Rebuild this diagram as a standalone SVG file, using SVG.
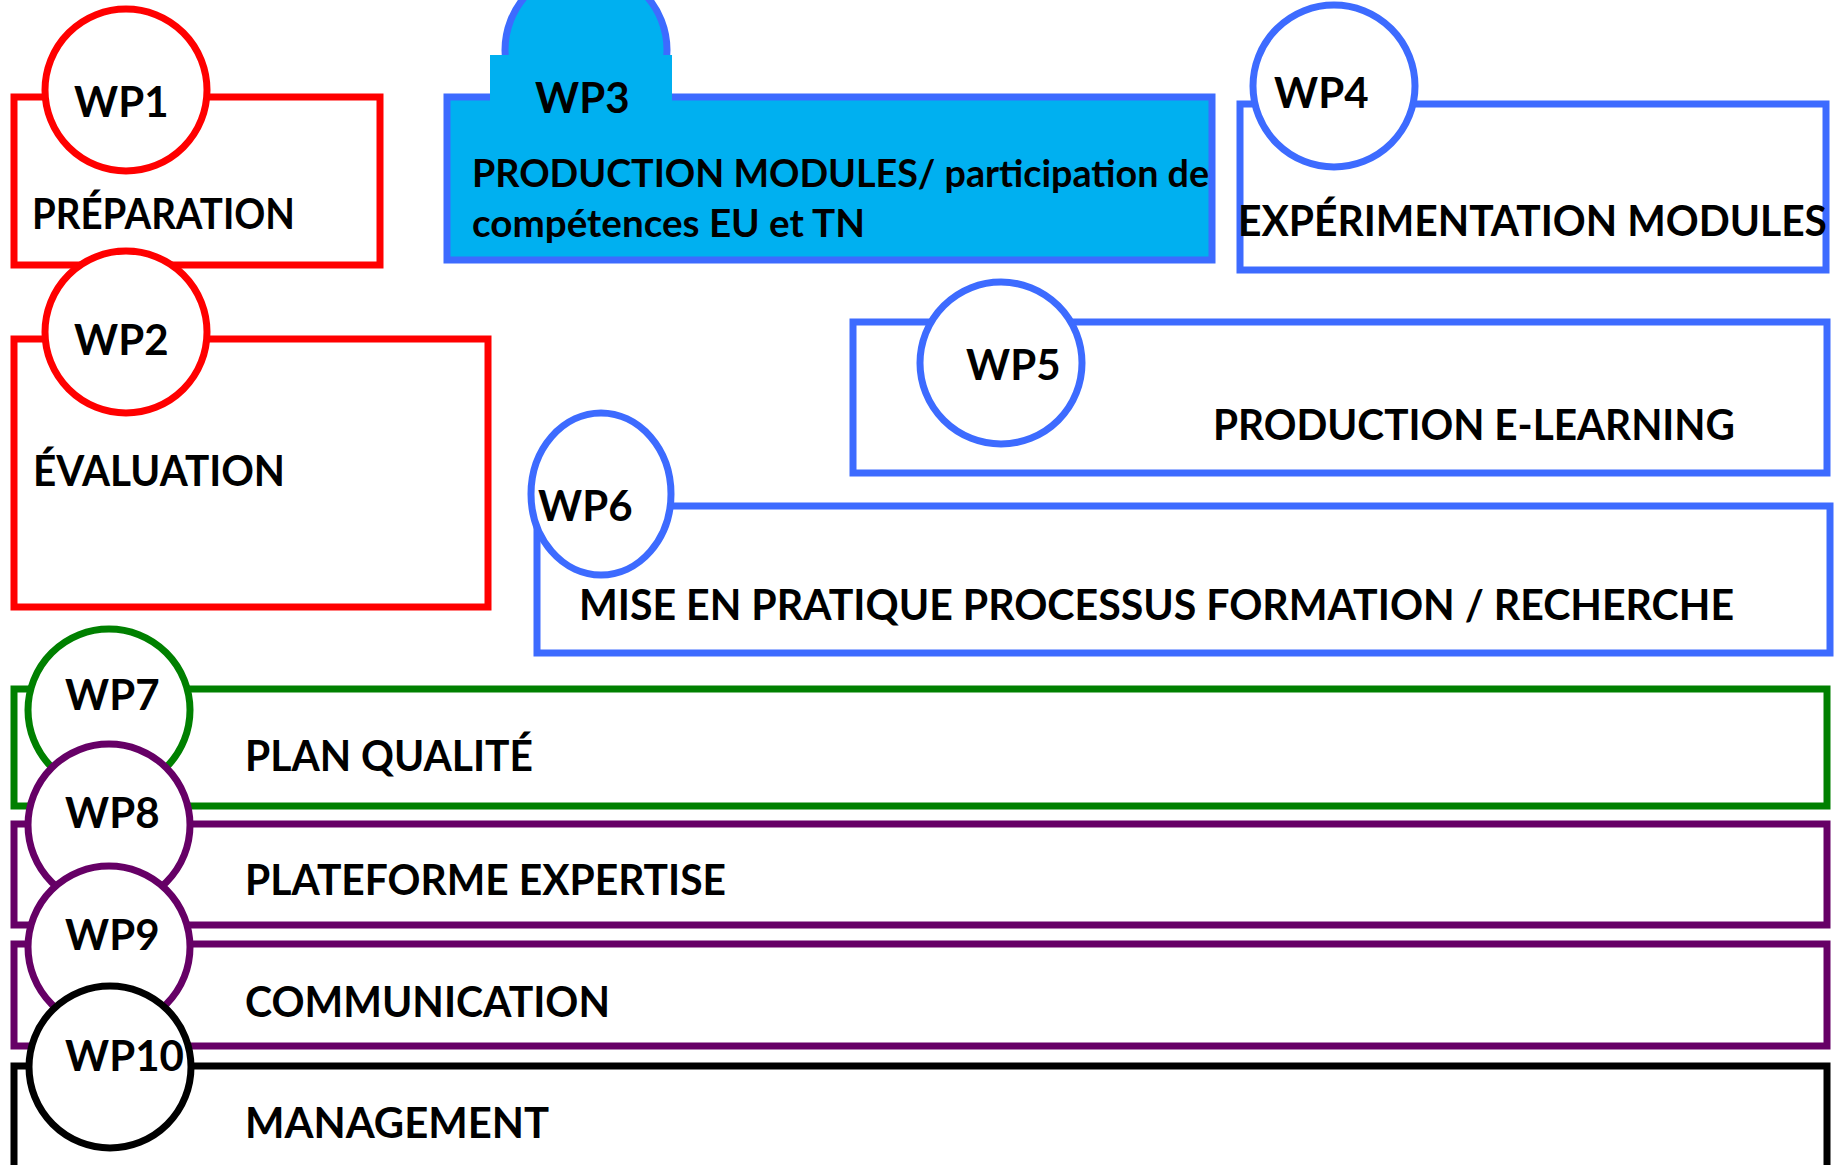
<svg xmlns="http://www.w3.org/2000/svg" width="1841" height="1165" viewBox="0 0 1841 1165">
<style>
text{font-family:Lato,"Liberation Sans",sans-serif;font-weight:bold;fill:#000}
.t{font-size:42px}
.s{font-size:38px}
.red{stroke:#FF0000;stroke-width:7;fill:#fff}
.blue{stroke:#3D6BFF;stroke-width:7;fill:#fff}
.cyan{stroke:#3D6BFF;stroke-width:7;fill:#00B0F0}
.green{stroke:#008000;stroke-width:7;fill:#fff}
.purple{stroke:#660066;stroke-width:7;fill:#fff}
.black{stroke:#000;stroke-width:7;fill:#fff}
</style>
<rect width="1841" height="1165" fill="#fff"/>
<g id="connectors"/>
<g id="wp1">
<rect class="red" x="14" y="97" width="366" height="168"/>
<circle class="red" cx="126" cy="90" r="81"/>
<text class="t" x="74" y="117">WP1</text>
<text class="t" x="32" y="229" textLength="263" lengthAdjust="spacingAndGlyphs">PRÉPARATION</text>
</g>
<g id="wp2">
<rect class="red" x="14" y="339" width="474" height="268"/>
<circle class="red" cx="126" cy="332" r="81"/>
<text class="t" x="74" y="355">WP2</text>
<text class="t" x="33" y="486" textLength="252" lengthAdjust="spacingAndGlyphs">ÉVALUATION</text>
</g>
<g id="wp3">
<circle class="cyan" cx="586" cy="50" r="81"/>
<rect class="cyan" x="447" y="97" width="765" height="163"/>
<rect x="490" y="55" width="182" height="47" fill="#00B0F0"/>
<text class="t" x="535" y="113">WP3</text>
<text class="s" x="472" y="187" textLength="737" lengthAdjust="spacingAndGlyphs">PRODUCTION MODULES/ participation de</text>
<text class="s" x="472" y="237" textLength="393" lengthAdjust="spacingAndGlyphs">compétences EU et TN</text>
</g>
<g id="wp4">
<rect class="blue" x="1240" y="104" width="586" height="166"/>
<circle class="blue" cx="1334" cy="86" r="81"/>
<text class="t" x="1274" y="108">WP4</text>
<text class="t" x="1238" y="236" textLength="589" lengthAdjust="spacingAndGlyphs">EXPÉRIMENTATION MODULES</text>
</g>
<g id="wp5">
<rect class="blue" x="853" y="322" width="974" height="151"/>
<circle class="blue" cx="1001" cy="363" r="81"/>
<text class="t" x="966" y="380">WP5</text>
<text class="t" x="1213" y="440" textLength="522" lengthAdjust="spacingAndGlyphs">PRODUCTION E-LEARNING</text>
</g>
<g id="wp6">
<rect class="blue" x="537" y="506" width="1293" height="147"/>
<ellipse class="blue" cx="601" cy="494" rx="70" ry="81"/>
<text class="t" x="538" y="521">WP6</text>
<text class="t" x="579" y="620" textLength="1155" lengthAdjust="spacingAndGlyphs">MISE EN PRATIQUE PROCESSUS FORMATION / RECHERCHE</text>
</g>
<g id="wp7">
<rect class="green" x="14" y="689" width="1813" height="117"/>
<circle class="green" cx="109" cy="710" r="81"/>
<text class="t" x="65" y="710">WP7</text>
<text class="t" x="245" y="771" textLength="288" lengthAdjust="spacingAndGlyphs">PLAN QUALITÉ</text>
</g>
<g id="wp8">
<rect class="purple" x="14" y="824" width="1813" height="101"/>
<circle class="purple" cx="109" cy="825" r="81"/>
<text class="t" x="65" y="828">WP8</text>
<text class="t" x="245" y="895" textLength="481" lengthAdjust="spacingAndGlyphs">PLATEFORME EXPERTISE</text>
</g>
<g id="wp9">
<rect class="purple" x="14" y="944" width="1813" height="102"/>
<circle class="purple" cx="109" cy="947" r="81"/>
<text class="t" x="65" y="950">WP9</text>
<text class="t" x="245" y="1017" textLength="365" lengthAdjust="spacingAndGlyphs">COMMUNICATION</text>
</g>
<g id="wp10">
<rect class="black" x="14" y="1066" width="1813" height="200"/>
<circle class="black" cx="110" cy="1067" r="81"/>
<text class="t" x="65" y="1071">WP10</text>
<text class="t" x="245" y="1138" textLength="304" lengthAdjust="spacingAndGlyphs">MANAGEMENT</text>
</g>
</svg>
